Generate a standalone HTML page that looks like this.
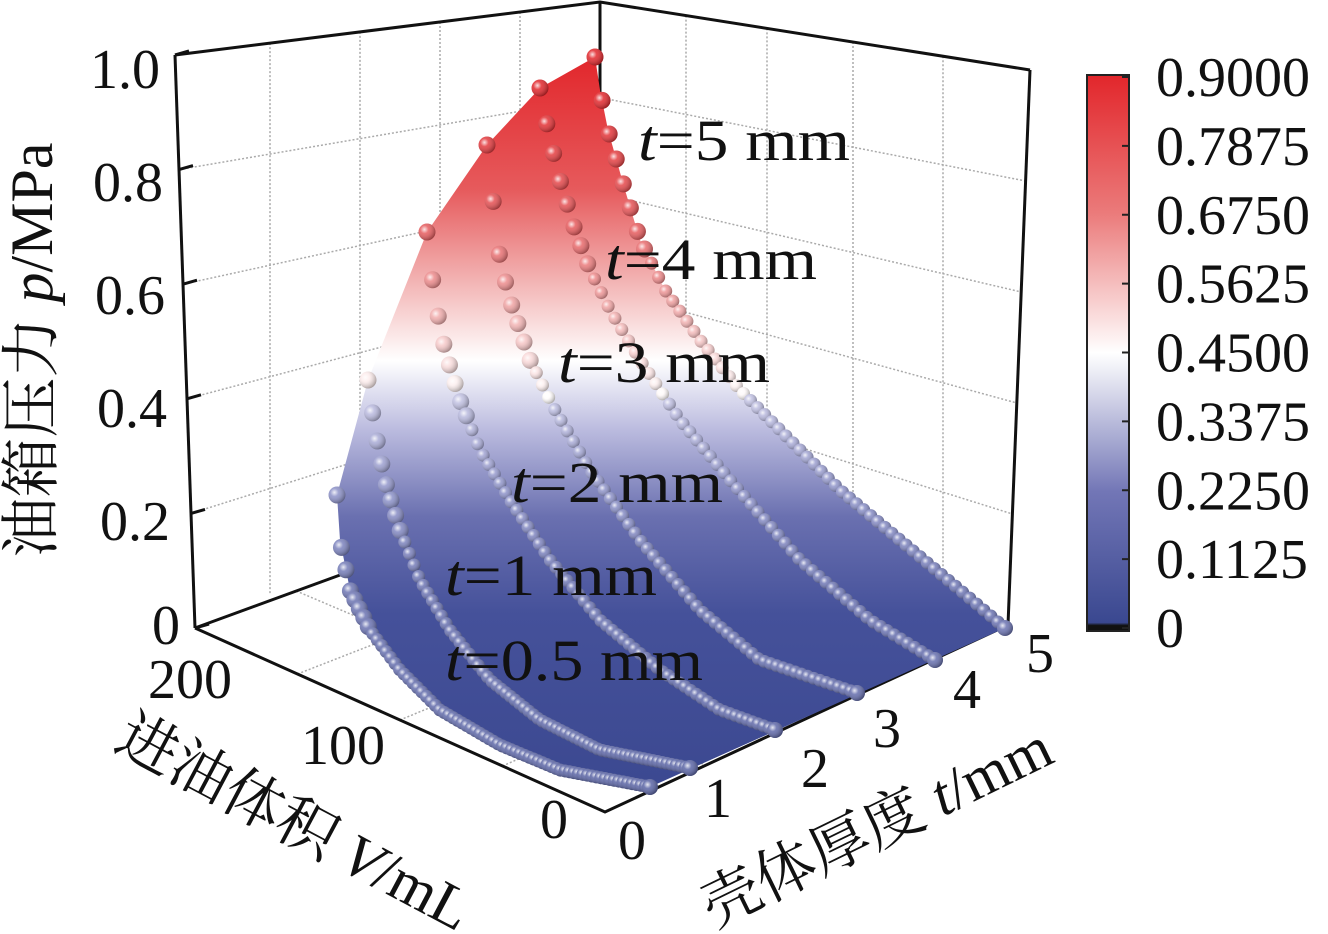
<!DOCTYPE html>
<html><head><meta charset="utf-8">
<style>
html,body{margin:0;padding:0;background:#fff;}
svg{display:block;}
text{font-family:"Liberation Serif","Noto Serif CJK SC","Noto Sans CJK SC",serif;fill:#111;}
</style></head>
<body>
<svg id="s" width="1328" height="934" viewBox="0 0 1328 934" xmlns="http://www.w3.org/2000/svg">
<defs>
<linearGradient id="sg" gradientUnits="userSpaceOnUse" x1="0" y1="55" x2="0" y2="800">
<stop offset="0" stop-color="#e2262b"/>
<stop offset="0.18" stop-color="#e65a5c"/>
<stop offset="0.30" stop-color="#f2b1b1"/>
<stop offset="0.41" stop-color="#ffffff"/>
<stop offset="0.50" stop-color="#bdbde0"/>
<stop offset="0.62" stop-color="#6a70b0"/>
<stop offset="0.75" stop-color="#45519a"/>
<stop offset="1" stop-color="#3b4890"/>
</linearGradient>
<linearGradient id="cb" x1="0" y1="0" x2="0" y2="1">
<stop offset="0" stop-color="#e2262b"/>
<stop offset="0.25" stop-color="#eb7b7b"/>
<stop offset="0.5" stop-color="#ffffff"/>
<stop offset="0.75" stop-color="#7276b6"/>
<stop offset="0.985" stop-color="#3a4890"/>
<stop offset="0.99" stop-color="#111"/>
<stop offset="1" stop-color="#111"/>
</linearGradient>
<radialGradient id="hl" cx="0.35" cy="0.35" r="0.7">
<stop offset="0" stop-color="#fff" stop-opacity="0.85"/>
<stop offset="0.35" stop-color="#fff" stop-opacity="0.15"/>
<stop offset="1" stop-color="#000" stop-opacity="0.35"/>
</radialGradient>
</defs>
<g id="grid" stroke="#aaa" stroke-width="1.5" stroke-dasharray="2,2" fill="none"></g>
<g id="frame" stroke="#111" stroke-width="3" fill="none">
<polyline points="175,55 600,2 1030,70"/>
<line x1="175" y1="55" x2="195" y2="628"/>
<line x1="1030" y1="70" x2="1008" y2="625"/>
<line x1="600" y1="2" x2="600" y2="480"/>
<polyline points="195,628 605,812 1008,625"/>
<line x1="195" y1="628" x2="600" y2="480"/>
</g>
<g id="surf"></g>
<g id="balls"></g>
<g font-size="58">
<text x="638" y="160" textLength="212" lengthAdjust="spacingAndGlyphs"><tspan font-style="italic">t</tspan>=5 mm</text>
<text x="605" y="279" textLength="212" lengthAdjust="spacingAndGlyphs"><tspan font-style="italic">t</tspan>=4 mm</text>
<text x="558" y="382" textLength="212" lengthAdjust="spacingAndGlyphs"><tspan font-style="italic">t</tspan>=3 mm</text>
<text x="511" y="502" textLength="212" lengthAdjust="spacingAndGlyphs"><tspan font-style="italic">t</tspan>=2 mm</text>
<text x="445" y="595" textLength="212" lengthAdjust="spacingAndGlyphs"><tspan font-style="italic">t</tspan>=1 mm</text>
<text x="445" y="680" textLength="258" lengthAdjust="spacingAndGlyphs"><tspan font-style="italic">t</tspan>=0.5 mm</text>
</g>
<g font-size="56" text-anchor="end">
<text x="160" y="88">1.0</text>
<text x="163" y="201">0.8</text>
<text x="165" y="314">0.6</text>
<text x="167" y="427">0.4</text>
<text x="170" y="540">0.2</text>
<text x="180" y="644">0</text>
<text x="232" y="698">200</text>
<text x="385" y="764">100</text>
<text x="568" y="838">0</text>
</g>
<g font-size="56" text-anchor="middle">
<text x="632" y="859">0</text>
<text x="718" y="817">1</text>
<text x="815" y="787">2</text>
<text x="887" y="747">3</text>
<text x="967" y="708">4</text>
<text x="1040" y="672">5</text>
</g>
<text font-size="60" transform="translate(52,350) rotate(-90)" text-anchor="middle">油箱压力 <tspan font-style="italic">p</tspan>/MPa</text>
<text font-size="60" transform="translate(285,840) rotate(28)" text-anchor="middle">进油体积 <tspan font-style="italic">V</tspan>/mL</text>
<text font-size="60" transform="translate(885,845) rotate(-26)" text-anchor="middle">壳体厚度 <tspan font-style="italic">t</tspan>/mm</text>
<rect x="1087" y="75" width="42" height="556" fill="url(#cb)" stroke="#222" stroke-width="2"/>
<g stroke="#222" stroke-width="2" id="cbt"></g>
<g font-size="56" id="cbl"></g>
</svg>
<script>
var NS="http://www.w3.org/2000/svg";
function el(tag,attrs,parent){var e=document.createElementNS(NS,tag);for(var k in attrs)e.setAttribute(k,attrs[k]);parent.appendChild(e);return e;}
var g=document.getElementById('grid');
[0.2,0.4,0.6,0.8].forEach(function(p){el('line',{x1:195-20*p,y1:628-573*p,x2:600,y2:480-478*p},g);});
[270,360,440,520].forEach(function(x){var f=(x-175)/425;el('line',{x1:x,y1:55-53*f,x2:x,y2:628-148*f},g);});
[0.2,0.4,0.6,0.8].forEach(function(p){el('line',{x1:600,y1:480-478*p,x2:1008+22*p,y2:625-555*p},g);});
[686,767,853,943].forEach(function(x){var f=(x-600)/430;el('line',{x1:x,y1:2+68*f,x2:x,y2:480+145*f},g);});
[0.25,0.5,0.75].forEach(function(f){
 el('line',{x1:195+410*f,y1:628+184*f,x2:600+408*f,y2:480+145*f},g);
 el('line',{x1:195+405*f,y1:628-148*f,x2:605+403*f,y2:812-187*f},g);});
var fr=document.getElementById('frame');
[0,0.2,0.4,0.6,0.8,1].forEach(function(p){el('line',{x1:195-20*p,y1:628-573*p,x2:195-20*p+14,y2:628-573*p-4},fr);});
var curves=[
[[337,495],[340,540],[350,590],[370,630],[400,670],[440,710],[500,745],[560,770],[650,787]],
[[368,380],[375,430],[385,480],[400,530],[420,580],[450,630],[490,680],[540,720],[600,750],[690,768]],
[[427,232],[435,300],[445,350],[460,400],[480,450],[510,500],[550,560],[600,620],[660,670],[720,710],[775,730]],
[[487,145],[493,200],[500,260],[510,300],[530,360],[555,410],[590,470],[640,540],[700,610],[760,660],[857,693]],
[[540,88],[548,130],[560,180],[575,230],[590,270],[610,310],[640,360],[680,420],[730,480],[800,560],[870,620],[935,660]],
[[595,57],[600,90],[608,130],[625,190],[640,240],[665,290],[700,340],[740,390],[780,430],[840,490],[900,540],[960,590],[1005,628]]];
var pts=[];curves[0].forEach(function(p){pts.push(p);});
pts.push([1005,628]);
for(var i=curves[5].length-1;i>=0;i--)pts.push(curves[5][i]);
for(var c=4;c>=1;c--)pts.push(curves[c][0]);
el('polygon',{points:pts.map(function(p){return p.join(',')}).join(' '),fill:'url(#sg)'},document.getElementById('surf'));
function yAt(cv,x){for(var i=0;i<cv.length-1;i++){if(x<=cv[i+1][0]){var f=(x-cv[i][0])/(cv[i+1][0]-cv[i][0]);return cv[i][1]+f*(cv[i+1][1]-cv[i][1]);}}return cv[cv.length-1][1];}
function col(y){var s=[[55,[226,38,43]],[190,[230,90,92]],[280,[242,177,177]],[360,[255,255,255]],[430,[189,189,224]],[520,[140,145,200]],[615,[110,118,180]],[800,[90,100,165]]];
for(var i=0;i<s.length-1;i++){if(y<=s[i+1][0]){var f=Math.max(0,(y-s[i][0])/(s[i+1][0]-s[i][0]));var c=s[i][1].map(function(v,j){return Math.round(v+f*(s[i+1][1][j]-v));});return 'rgb('+c.join(',')+')';}}return 'rgb(90,100,165)';}
var bg=document.getElementById('balls');
curves.forEach(function(cv,ci){
 var x0=cv[0][0],x1=cv[cv.length-1][0],N=[70,70,62,60,58,58][ci];
 for(var k=0;k<=N;k++){var x=x0+(x1-x0)*k/N;var y=yAt(cv,x);
  var r=(k<8?8.5:6.5);if(k==N)r=8;
  var cc=col(y+(y<400?-40:25));
  el('circle',{cx:x,cy:y,r:r,fill:cc},bg);
  el('circle',{cx:x,cy:y,r:r,fill:'url(#hl)'},bg);}
});
var lab=["0.9000","0.7875","0.6750","0.5625","0.4500","0.3375","0.2250","0.1125","0"];
var cbt=document.getElementById('cbt'),cbl=document.getElementById('cbl');
lab.forEach(function(t,i){var y=77+i*(628-77)/8;
 el('line',{x1:1122,y1:y,x2:1129,y2:y},cbt);
 var e=el('text',{x:1156,y:y+19},cbl);e.textContent=t;});
</script>
</body></html>
